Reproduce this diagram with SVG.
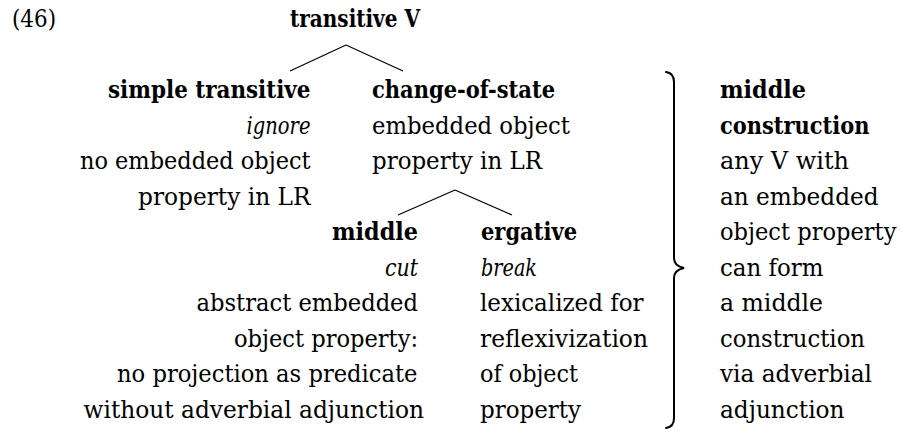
<svg xmlns="http://www.w3.org/2000/svg" width="902" height="431" viewBox="0 0 902 431">
<style>
text{font-family:"DejaVu Serif",serif;font-size:24.5px;fill:#000}
.b{font-weight:bold}
.i{font-style:italic}
.ln{stroke:#000;stroke-width:1.2;fill:none}
.br{stroke:#000;stroke-width:2;fill:none;stroke-linecap:round}
</style>
<rect width="902" height="431" fill="#fff"/>
<g id="example-number"><text x="12" y="26.5" textLength="44" lengthAdjust="spacingAndGlyphs">(46)</text></g>
<g id="node-transitive-v"><text class="b" x="290" y="26.5" textLength="130" lengthAdjust="spacingAndGlyphs">transitive V</text></g>
<g id="node-simple-transitive">
<text class="b" x="108" y="98" textLength="202.5" lengthAdjust="spacingAndGlyphs">simple transitive</text>
<text class="i" x="246.5" y="133.5" textLength="64" lengthAdjust="spacingAndGlyphs">ignore</text>
<text x="80" y="169" textLength="230.5" lengthAdjust="spacingAndGlyphs">no embedded object</text>
<text x="138" y="204.5" textLength="172.5" lengthAdjust="spacingAndGlyphs">property in LR</text>
</g>
<g id="node-change-of-state">
<text class="b" x="372" y="98" textLength="183" lengthAdjust="spacingAndGlyphs">change-of-state</text>
<text x="372" y="133.5" textLength="198" lengthAdjust="spacingAndGlyphs">embedded object</text>
<text x="372" y="169" textLength="170" lengthAdjust="spacingAndGlyphs">property in LR</text>
</g>
<g id="node-middle">
<text class="b" x="332" y="240" textLength="86" lengthAdjust="spacingAndGlyphs">middle</text>
<text class="i" x="385" y="275.5" textLength="33" lengthAdjust="spacingAndGlyphs">cut</text>
<text x="196.5" y="311" textLength="221.5" lengthAdjust="spacingAndGlyphs">abstract embedded</text>
<text x="234" y="346.5" textLength="184" lengthAdjust="spacingAndGlyphs">object property:</text>
<text x="117" y="382" textLength="300.5" lengthAdjust="spacingAndGlyphs">no projection as predicate</text>
<text x="83.5" y="417.5" textLength="340.5" lengthAdjust="spacingAndGlyphs">without adverbial adjunction</text>
</g>
<g id="node-ergative">
<text class="b" x="481" y="240" textLength="96" lengthAdjust="spacingAndGlyphs">ergative</text>
<text class="i" x="481" y="275.5" textLength="56" lengthAdjust="spacingAndGlyphs">break</text>
<text x="480" y="311" textLength="163.5" lengthAdjust="spacingAndGlyphs">lexicalized for</text>
<text x="480" y="346.5" textLength="168" lengthAdjust="spacingAndGlyphs">reflexivization</text>
<text x="480" y="382" textLength="98" lengthAdjust="spacingAndGlyphs">of object</text>
<text x="480" y="417.5" textLength="101" lengthAdjust="spacingAndGlyphs">property</text>
</g>
<g id="connectors">
<line class="ln" x1="346" y1="45" x2="290" y2="71"/>
<line class="ln" x1="346" y1="45" x2="403" y2="71"/>
<line class="ln" x1="455" y1="190" x2="398" y2="215"/>
<line class="ln" x1="455" y1="190" x2="512" y2="215"/>
</g>
<g id="brace">
<path class="br" d="M666 72 Q674 73 674 82 L674 258 Q674 266 684 268 Q674 270 674 278 L674 418 Q674 427 666 428"/>
</g>
<g id="node-middle-construction">
<text class="b" x="720" y="98" textLength="86" lengthAdjust="spacingAndGlyphs">middle</text>
<text class="b" x="720" y="133.5" textLength="149.5" lengthAdjust="spacingAndGlyphs">construction</text>
<text x="720" y="169" textLength="129" lengthAdjust="spacingAndGlyphs">any V with</text>
<text x="720" y="204.5" textLength="158.5" lengthAdjust="spacingAndGlyphs">an embedded</text>
<text transform="translate(720 240) scale(0.9 1)" x="0" y="0" textLength="196" lengthAdjust="spacingAndGlyphs">object property</text>
<text x="720" y="275.5" textLength="103.5" lengthAdjust="spacingAndGlyphs">can form</text>
<text x="720" y="311" textLength="103" lengthAdjust="spacingAndGlyphs">a middle</text>
<text x="720" y="346.5" textLength="145" lengthAdjust="spacingAndGlyphs">construction</text>
<text x="720" y="382" textLength="152" lengthAdjust="spacingAndGlyphs">via adverbial</text>
<text x="720" y="417.5" textLength="124.5" lengthAdjust="spacingAndGlyphs">adjunction</text>
</g>
</svg>
